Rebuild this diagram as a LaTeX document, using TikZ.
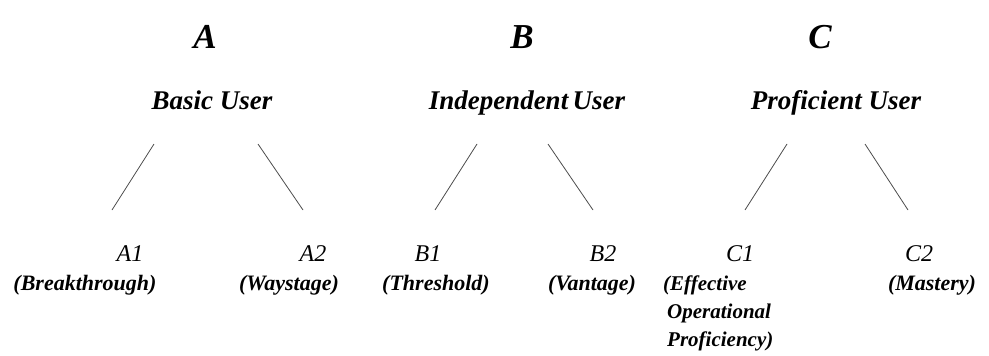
\documentclass[tikz,border=0pt]{standalone}
\usepackage{fontspec}
\setmainfont{Liberation Serif}
\begin{document}
\begin{tikzpicture}[x=1pt,y=-1pt,
  letter/.style={anchor=base,inner sep=0pt,font=\fontsize{35}{35}\selectfont\bfseries\itshape},
  usergrp/.style={anchor=base,inner sep=0pt,font=\fontsize{27}{27}\selectfont\bfseries\itshape},
  code/.style={anchor=base,inner sep=0pt,font=\fontsize{24}{24}\selectfont\itshape},
  desc/.style={anchor=base,inner sep=0pt,font=\fontsize{22}{22}\selectfont\bfseries\itshape},
  descsm/.style={desc,anchor=base west,font=\fontsize{21}{21}\selectfont\bfseries\itshape},
  branch/.style={draw=black!70,line width=0.8pt}]
\useasboundingbox (0,0) rectangle (989,356);
% top letters
\node[letter] (A) at (205,48) {A};
\node[letter] (B) at (522,48) {B};
\node[letter] (C) at (820,48) {C};
% user groups
\node[usergrp] (basic) at (212,109) {Basic User};
\node[usergrp] (indep) at (527,109) {Independent\,User};
\node[usergrp] (prof) at (836,109) {Proficient User};
% branch ends
\coordinate (aL1) at (154,144); \coordinate (aL2) at (112,210);
\coordinate (aR1) at (258,144); \coordinate (aR2) at (303,210);
\coordinate (bL1) at (477,144); \coordinate (bL2) at (435,210);
\coordinate (bR1) at (548,144); \coordinate (bR2) at (593,210);
\coordinate (cL1) at (787,144); \coordinate (cL2) at (745,210);
\coordinate (cR1) at (865,144); \coordinate (cR2) at (908,210);
\draw[branch] (aL1) -- (aL2);
\draw[branch] (aR1) -- (aR2);
\draw[branch] (bL1) -- (bL2);
\draw[branch] (bR1) -- (bR2);
\draw[branch] (cL1) -- (cL2);
\draw[branch] (cR1) -- (cR2);
% codes
\node[code] (A1) at (130,261) {A1};
\node[code] (A2) at (313,261) {A2};
\node[code] (B1) at (428,261) {B1};
\node[code] (B2) at (603,261) {B2};
\node[code] (C1) at (740,261) {C1};
\node[code] (C2) at (919,261) {C2};
% descriptions
\node[desc] (dA1) at (85,290) {(Breakthrough)};
\node[desc] (dA2) at (289,290) {(Waystage)};
\node[desc] (dB1) at (436,290) {(Threshold)};
\node[desc] (dB2) at (592,290) {(Vantage)};
\node[descsm] (dC1a) at (663,290) {(Effective};
\node[descsm] (dC1b) at (667,318) {Operational};
\node[descsm] (dC1c) at (667,346) {Proficiency)};
\node[desc] (dC2) at (932,290) {(Mastery)};
\end{tikzpicture}
\end{document}
